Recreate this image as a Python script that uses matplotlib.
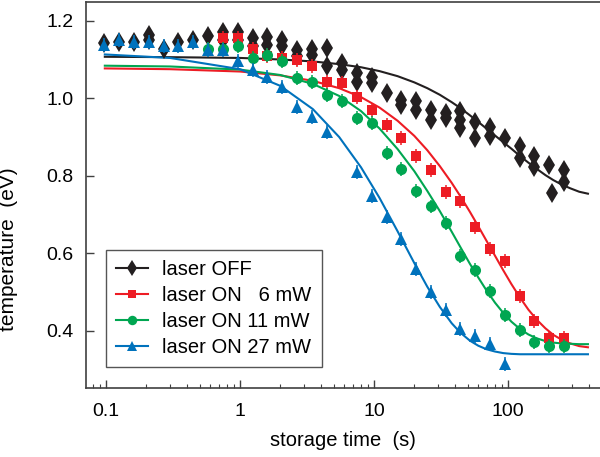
import matplotlib
matplotlib.use("Agg")
import matplotlib.pyplot as plt
from matplotlib.lines import Line2D

plt.rcParams['font.family'] = ['Liberation Sans', 'DejaVu Sans']

# measured points: storage time (s) and temperature (eV)
t_off = [0.097, 0.125, 0.162, 0.209, 0.209, 0.271, 0.344, 0.446, 0.577, 0.747, 0.747,
         0.966, 0.966, 1.25, 1.25, 1.59, 1.59, 2.06, 2.06, 2.66, 2.66, 3.45, 3.45,
         4.46, 4.46, 5.77, 5.77, 7.47, 7.47, 9.67, 9.67, 12.5, 15.9, 15.9, 20.6, 20.6,
         26.6, 26.6, 34.4, 34.4, 43.8, 43.8, 43.8, 56.7, 56.7, 73.4, 73.4, 95,
         123, 123, 156, 156, 202, 213, 262, 262]
T_off = [1.142, 1.145, 1.144, 1.164, 1.150, 1.128, 1.144, 1.150, 1.161, 1.170, 1.150,
         1.172, 1.150, 1.155, 1.134, 1.159, 1.138, 1.151, 1.134, 1.125, 1.108, 1.127, 1.112,
         1.130, 1.082, 1.091, 1.074, 1.065, 1.043, 1.056, 1.039, 1.013, 0.996, 0.983, 0.994, 0.970,
         0.970, 0.945, 0.962, 0.949, 0.966, 0.945, 0.923, 0.940, 0.897, 0.927, 0.903, 0.897,
         0.877, 0.846, 0.852, 0.824, 0.828, 0.755, 0.815, 0.785]

t_6 = [0.747, 0.966, 1.25, 1.59, 2.06, 2.66, 3.45, 4.46, 5.77, 7.47, 9.67, 12.5,
       15.9, 20.6, 26.6, 34.4, 43.8, 56.7, 73.4, 95, 123, 156, 202, 262]
T_6 = [1.155, 1.155, 1.127, 1.110, 1.104, 1.099, 1.084, 1.043, 1.039, 1.003, 0.970, 0.931,
       0.897, 0.850, 0.815, 0.759, 0.736, 0.668, 0.611, 0.581, 0.489, 0.426, 0.381, 0.383]

t_11 = [0.577, 0.747, 0.966, 1.25, 1.59, 2.06, 2.66, 3.45, 4.46, 5.77, 7.47, 9.67, 12.5,
        15.9, 20.6, 26.6, 34.4, 43.8, 56.7, 73.4, 95, 123, 156, 202, 262]
T_11 = [1.127, 1.127, 1.134, 1.104, 1.112, 1.095, 1.052, 1.043, 1.009, 0.992, 0.949, 0.936, 0.860,
        0.818, 0.762, 0.721, 0.678, 0.594, 0.556, 0.504, 0.441, 0.403, 0.372, 0.361, 0.361]

t_27 = [0.097, 0.125, 0.162, 0.209, 0.271, 0.344, 0.446, 0.577, 0.747, 0.966, 1.25, 1.59,
        2.06, 2.66, 3.45, 4.46, 7.47, 9.67, 12.5, 15.9, 20.6, 26.6, 34.4, 43.8, 56.7, 73.4, 95]
T_27 = [1.138, 1.150, 1.145, 1.146, 1.136, 1.134, 1.146, 1.125, 1.125, 1.095, 1.073, 1.054,
        1.030, 0.977, 0.951, 0.914, 0.811, 0.749, 0.693, 0.637, 0.560, 0.500, 0.453, 0.406, 0.386, 0.366, 0.314]

# fitted curves at these times
fit_t = [0.098, 0.3, 1, 2, 3.5, 5.5, 8, 11, 15, 20, 25, 31, 38, 44, 52, 60, 69, 80, 92,
         106, 123, 142, 164, 190, 218, 250, 291, 340, 395]
fit_T_off = [1.107, 1.106, 1.104, 1.100, 1.095, 1.088, 1.080, 1.070, 1.057, 1.041, 1.026, 1.009,
             0.990, 0.975, 0.956, 0.939, 0.922, 0.904, 0.887, 0.870, 0.851, 0.834, 0.818,
             0.802, 0.789, 0.778, 0.768, 0.759, 0.754]
fit_T_6 = [1.077, 1.075, 1.069, 1.059, 1.045, 1.026, 1.003, 0.976, 0.942, 0.903, 0.866, 0.825,
           0.782, 0.748, 0.707, 0.670, 0.633, 0.594, 0.557, 0.521, 0.486, 0.455, 0.429,
           0.407, 0.390, 0.378, 0.368, 0.361, 0.358]
fit_T_11 = [1.084, 1.082, 1.074, 1.060, 1.037, 1.006, 0.967, 0.922, 0.869, 0.812, 0.761, 0.709,
            0.656, 0.617, 0.573, 0.538, 0.505, 0.473, 0.447, 0.424, 0.405, 0.391, 0.381,
            0.374, 0.370, 0.368, 0.367, 0.366, 0.366]
fit_T_27 = [1.113, 1.104, 1.075, 1.032, 0.972, 0.900, 0.822, 0.743, 0.657, 0.575, 0.514, 0.462,
            0.420, 0.396, 0.375, 0.362, 0.353, 0.347, 0.343, 0.341, 0.340, 0.340, 0.340,
            0.340, 0.340, 0.340, 0.340, 0.340, 0.340]

err = 0.018

labels = ['laser OFF', 'laser ON   6 mW', 'laser ON 11 mW', 'laser ON 27 mW']
colors = ['#231f20', '#ed1c24', '#00a651', '#0072bc']
markers = ['d', 's', 'o', '^']
msizes = [10, 7, 8, 9]

points = [(t_off, T_off), (t_6, T_6), (t_11, T_11), (t_27, T_27)]
fits = [fit_T_off, fit_T_6, fit_T_11, fit_T_27]

fig = plt.figure(figsize=(6, 4.57), dpi=100)
ax = fig.add_axes([0.1433, 0.151, 0.8567, 0.8457])

for i, fT in enumerate(fits):
    ax.plot(fit_t, fT, color=colors[i], lw=1.5, zorder=2)
for i, (tx, ty) in enumerate(points):
    ax.errorbar(tx, ty, yerr=err, fmt=markers[i], color=colors[i], ms=msizes[i],
                elinewidth=1.1, capsize=0, mew=0, zorder=3 + i)

ax.set_xscale('log')
ax.set_xlim(0.0709, 486)
ax.set_ylim(0.253, 1.2495)
ax.set_yticks([0.4, 0.6, 0.8, 1.0, 1.2])
ax.set_xticks([0.1, 1, 10, 100])
ax.set_xticklabels(['0.1', '1', '10', '100'])
ax.set_yticklabels(['0.4', '0.6', '0.8', '1.0', '1.2'])

ax.spines['right'].set_visible(False)
for s in ['left', 'bottom', 'top']:
    ax.spines[s].set_color('#404040')
    ax.spines[s].set_linewidth(1.2)
ax.tick_params(axis='both', which='major', direction='in', length=6, width=1,
               color='#404040', labelsize=14, pad=9)
ax.tick_params(axis='x', which='minor', direction='in', length=3, width=0.8, color='#404040')
ax.tick_params(axis='x', which='major', pad=11)
ax.tick_params(top=False, right=False, which='both')

ax.set_xlabel('storage time  (s)', fontsize=14.5, labelpad=8)
ax.set_ylabel('temperature  (eV)', fontsize=15)
ax.yaxis.set_label_coords(-0.132, 0.36)

handles = [Line2D([], [], color=colors[i], marker=markers[i], ms=msizes[i] * 0.85,
                  lw=1.5, mew=0) for i in range(4)]
leg = ax.legend(handles, labels, loc='lower left', bbox_to_anchor=(0.039, 0.054),
                borderaxespad=0, fontsize=14.5, handlelength=1.6, handletextpad=0.7,
                labelspacing=0.35, borderpad=0.5, fancybox=False, framealpha=1)
leg.get_frame().set_edgecolor('#555555')
leg.get_frame().set_linewidth(1.0)

fig.savefig('out.png', dpi=100)
